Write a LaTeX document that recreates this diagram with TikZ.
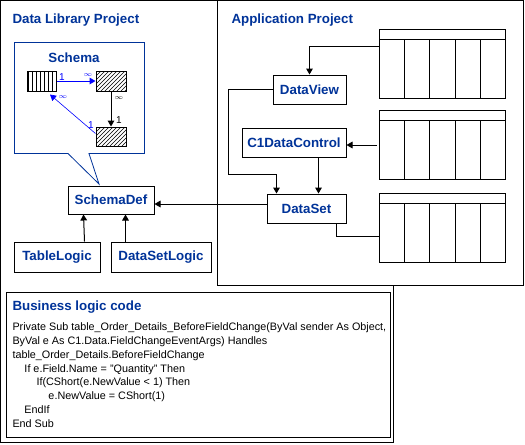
\documentclass[tikz,border=0pt]{standalone}
\usepackage{fontspec}
\setmainfont{Liberation Sans}
\usetikzlibrary{arrows.meta,positioning,calc,patterns}
\definecolor{navy}{RGB}{0,51,153}
\definecolor{linkblue}{RGB}{0,0,255}
\tikzset{
  project/.style={draw=black, inner sep=0pt, outer sep=0pt, anchor=north west},
  heading/.style={text=navy, font=\fontsize{10}{12}\selectfont\bfseries, inner sep=0pt},
  box/.style={draw=black, fill=white, text=navy, font=\fontsize{10}{12}\selectfont\bfseries, inner sep=0pt, minimum height=21.75pt},
  tbl/.style={draw=black, inner sep=0pt, minimum width=22.5pt, minimum height=15pt},
  datagrid/.style={draw=black, fill=white, inner sep=0pt, outer sep=0pt, minimum width=94.5pt, minimum height=51.75pt, anchor=north west},
  arrow/.style={-{Triangle[length=4.5pt,width=5pt]}},
  bluearrow/.style={arrow, draw=linkblue},
  thinarrow/.style={-{Triangle[length=4.5pt,width=5pt]}, line width=0.45pt, draw=linkblue},
  card/.style={font=\fontsize{7.5}{8}\selectfont, inner sep=0pt},
  balloon/.style={draw=navy, line width=0.6pt}
}
\begin{document}
\begin{tikzpicture}[x=0.75pt, y=-0.75pt, line width=0.75pt]
\useasboundingbox (0,0) rectangle (525,444);
% the two projects
\node[project, minimum width=294.75pt, minimum height=331.5pt] (lib) at (0.5,0.5) {};
\node[project, fill=white, minimum width=229.5pt, minimum height=213.75pt] (app) at (217.5,0.5) {};
\node[project, minimum width=288pt, minimum height=108.75pt] (code) at (6.5,292.5) {};
\node[heading, anchor=base west] (libtitle) at (12,23) {Data Library Project};
\node[heading, anchor=base west] (apptitle) at (231,23) {Application Project};

% schema balloon
\node[inner sep=0pt, outer sep=0pt, minimum width=97.5pt, minimum height=83.25pt, anchor=north west] (schema) at (14.5,42.5) {};
\node[heading, anchor=base] (schematitle) at (74,62) {Schema};
\coordinate (tip) at (99,184);
\draw[balloon] ($(schema.south west)+(53.5,0)$) -- (tip) -- ($(schema.south west)+(74.5,0)$)
  -| (schema.north east) -| (schema.south west) -- cycle;
\node[tbl, minimum width=21.75pt, pattern=vertical lines] (master) at (41.5,81) {};
\node[tbl, pattern=north east lines] (detail) at (111,81) {};
\node[tbl, minimum height=14.25pt, pattern=north east lines] (lookup) at (111,136.5) {};
\draw[bluearrow] (master) -- (detail);
\node[card, text=linkblue] (m1) at (62,77) {1};
\node[card, text=linkblue] (dn) at (88,75) {$\scriptstyle\infty$};
\draw[arrow] (detail) -- (lookup);
\node[card] (dn2) at (119,98) {$\scriptstyle\infty$};
\node[card] (l1) at (119,120) {1};
\draw[thinarrow] ($(lookup.west)+(0,-3)$) -- ($(master.south)+(8.5,3)$);
\node[card, text=linkblue] (mn) at (63,97) {$\scriptstyle\infty$};
\node[card, text=linkblue] (l2) at (91,125) {1};

% library classes
\node[box, minimum width=64.5pt, minimum height=21pt] (schemadef) at (111,200) {SchemaDef};
\node[box, minimum width=64.5pt, minimum height=22.5pt] (tablelogic) at (57,257) {TableLogic};
\node[box, minimum width=75pt, minimum height=22.5pt, right=7.5pt of tablelogic] (datasetlogic) {DataSetLogic};
\draw[arrow] ($(tablelogic.north east)+(-16,0)$) -- ($(schemadef.south west)+(16,0)$);
\draw[arrow] ($(datasetlogic.north west)+(15,0)$) -- ($(schemadef.south east)+(-29,0)$);

% application side
\node[box, minimum width=54.75pt] (dataview) at (309.5,89.5) {DataView};
\node[box, minimum width=78pt] (c1) at (294,142.5) {C1DataControl};
\node[box, minimum width=59.25pt] (dataset) at (306.5,208.5) {DataSet};
\node[datagrid] (gridA) at (379.5,29.5) {};
\node[datagrid] (gridB) at (379.5,110.5) {};
\node[datagrid] (gridC) at (379.5,193.5) {};
\foreach \g in {gridA,gridB,gridC} {
  \draw ($(\g.north west)+(0,10)$) -- ($(\g.north east)+(0,10)$);
  \foreach \f in {0.2,0.4,0.6,0.8}
    \draw ($(\g.north west)!\f!(\g.north east)+(0,10)$) -- ($(\g.south west)!\f!(\g.south east)$);
}
\draw[arrow] ($(gridA.north west)+(0,17)$) -| (dataview.north);
\draw[arrow] (dataview.west) -- ++(-44,0) |- ($(dataset.north west)+(10,-19)$) -- ($(dataset.north west)+(10,0)$);
\draw[arrow] ($(c1.south east)+(-28,0)$) -- ($(dataset.north east)+(-28,0)$);
\draw[arrow] ($(gridB.west)+(-3,0)$) -- (c1.east |- gridB.west);
\draw ($(dataset.south east)+(-10,0)$) |- ($(gridC.north west)+(0,43)$);
\draw[arrow] ($(dataset.west)+(0,-4.5)$) -- ($(schemadef.east)+(0,4)$);

% code
\node[heading, anchor=base west] (codetitle) at (12,310) {Business logic code};
\node[anchor=base west, align=left, inner sep=0pt, font=\fontsize{8.1}{10.3}\selectfont] (codetext) at (12,427)
  {Private Sub table\_Order\_Details\_BeforeFieldChange(ByVal sender As Object,\\
   ByVal e As C1.Data.FieldChangeEventArgs) Handles\\
   table\_Order\_Details.BeforeFieldChange\\
   \hspace*{9pt}If e.Field.Name = "Quantity" Then\\
   \hspace*{18pt}If(CShort(e.NewValue < 1) Then\\
   \hspace*{27pt}e.NewValue = CShort(1)\\
   \hspace*{9pt}EndIf\\
   End Sub};
\end{tikzpicture}
\end{document}
